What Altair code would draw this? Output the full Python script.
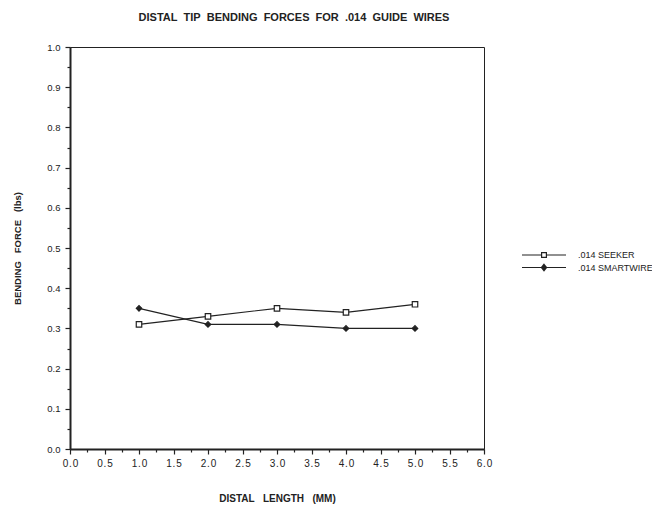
import altair as alt
import pandas as pd

x_vals = [1.0, 2.0, 3.0, 4.0, 5.0]
seeker = [0.31, 0.33, 0.35, 0.34, 0.36]
smartwire = [0.35, 0.31, 0.31, 0.30, 0.30]
series_names = [".014 SEEKER", ".014 SMARTWIRE"]

rows = []
for name, vals in zip(series_names, [seeker, smartwire]):
    for xv, yv in zip(x_vals, vals):
        rows.append({"series": name, "x": xv, "y": yv})
df = pd.DataFrame(rows)

x_major = [i * 0.5 for i in range(13)]
x_minor = [0.25 + i * 0.5 for i in range(12)]
y_major = [round(i * 0.1, 1) for i in range(11)]
y_minor = [round(0.05 + i * 0.1, 2) for i in range(10)]

FONT = "Liberation Sans"
NB = "\u00a0"
HS = "\u200a"
G = NB * 3

x_scale = alt.Scale(domain=[0, 6], nice=False, zero=True)
y_scale = alt.Scale(domain=[0, 1], nice=False)

x_enc = alt.X(
    "x:Q",
    scale=x_scale,
    axis=alt.Axis(
        orient="bottom",
        values=x_major,
        labelExpr=f"replace(format(datum.value,'.1f'), '.', '{HS}.{HS}')",
        tickSize=5,
        labelPadding=4,
        labelOverlap=False,
        labelFlush=False,
        labelFontSize=10,
        title=f"DISTAL{G}LENGTH{G}(MM)",
        titleFontSize=10,
        titlePadding=25,
        grid=False,
    ),
)
y_enc = alt.Y(
    "y:Q",
    scale=y_scale,
    axis=alt.Axis(
        orient="left",
        values=y_major,
        format=".1f",
        tickSize=5,
        labelPadding=5,
        labelOverlap=False,
        labelFlush=False,
        title=f"BENDING{G}FORCE{G}(lbs)",
        titleFontSize=9.5,
        titlePadding=24,
        grid=False,
    ),
)

base = alt.Chart(df)

lines = base.mark_line(color="#222222", strokeWidth=1.2).encode(
    x=x_enc, y=y_enc, detail="series:N"
)

markers = base.mark_point(stroke="#222222", strokeWidth=1.2, size=30, opacity=1).encode(
    x=alt.X("x:Q", axis=None),
    y=alt.Y("y:Q", axis=None),
    shape=alt.Shape("series:N", scale=alt.Scale(domain=series_names, range=["square", "diamond"]), legend=None),
    fill=alt.Fill("series:N", scale=alt.Scale(domain=series_names, range=["white", "#222222"]), legend=None),
)

# symbol size 64 -> unit = 4px; line spans +-5.5 units = +-22px
seeker_path = "M-5.5,0L-0.6,0M0.6,0L5.5,0M-0.6,-0.6L0.6,-0.6L0.6,0.6L-0.6,0.6Z"
smart_path = ("M-5.5,0L5.5,0M0,-0.8L0.65,0L0,0.8L-0.65,0Z"
              "M0,-0.8L0,0.8M0,-0.45L0.35,0L0,0.45L-0.35,0Z")

legend_layer = (
    base.transform_filter("false")
    .mark_point(color="#222222", strokeWidth=1.2, opacity=1)
    .encode(
        x=alt.X(
            "x:Q",
            axis=alt.Axis(orient="bottom", values=x_minor, tickSize=3, labels=False,
                          domain=False, title=None, grid=False),
        ),
        y=alt.Y(
            "y:Q",
            axis=alt.Axis(orient="left", values=y_minor, tickSize=3, labels=False,
                          domain=False, title=None, grid=False),
        ),
        shape=alt.Shape(
            "series:N",
            scale=alt.Scale(domain=series_names, range=[seeker_path, smart_path]),
            legend=alt.Legend(
                title=None,
                orient="none",
                legendX=469,
                legendY=203,
                symbolSize=64,
                labelFont=FONT,
                labelFontSize=9,
                labelColor="#222222",
                labelOffset=29,
                rowPadding=1.5,
            ),
        ),
    )
)

chart = (
    alt.layer(lines, markers, legend_layer)
    .resolve_scale(shape="independent", fill="independent")
    .resolve_axis(x="independent", y="independent")
    .properties(
        width=414,
        height=402,
        autosize=alt.AutoSizeParams(type="none"),
        padding={"left": 62, "top": 39, "right": 168, "bottom": 55},
        title=alt.TitleParams(
            f"DISTAL{NB}{NB}TIP{NB}{NB}BENDING{NB}{NB}FORCES{NB}{NB}FOR{NB}{NB}.014{NB}{NB}GUIDE{NB}{NB}WIRES",
            font=FONT,
            fontSize=11,
            fontWeight="bold",
            color="#222222",
            offset=19,
            dx=17,
        ),
    )
    .configure_view(stroke="#222222", strokeWidth=1)
    .configure_legend(symbolStrokeColor="#222222", symbolStrokeWidth=1.2, symbolFillColor="white")
    .configure_axis(
        domainColor="#222222",
        domainWidth=2,
        tickColor="#222222",
        tickWidth=1.2,
        labelFont=FONT,
        labelFontSize=9.5,
        labelColor="#222222",
        titleFont=FONT,
        titleFontWeight="bold",
        titleColor="#222222",
    )
)

chart.save("out.html", embed_options={"renderer": "svg", "actions": False})
